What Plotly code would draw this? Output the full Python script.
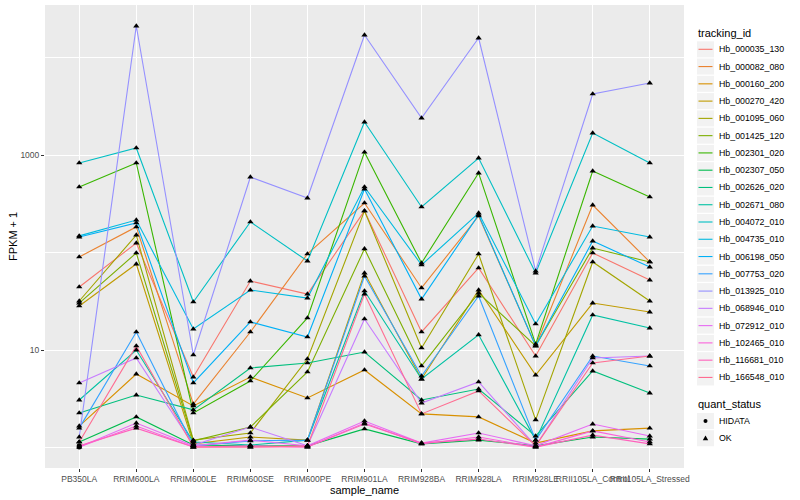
import plotly.graph_objects as go

samples = ["PB350LA", "RRIM600LA", "RRIM600LE", "RRIM600SE", "RRIM600PE", "RRIM901LA",
           "RRIM928BA", "RRIM928LA", "RRIM928LE", "RRII105LA_Control", "RRII105LA_Stressed"]

tracking_ids = ["Hb_000035_130", "Hb_000082_080", "Hb_000160_200", "Hb_000270_420", "Hb_001095_060",
                "Hb_001425_120", "Hb_002301_020", "Hb_002307_050", "Hb_002626_020", "Hb_002671_080",
                "Hb_004072_010", "Hb_004735_010", "Hb_006198_050", "Hb_007753_020", "Hb_013925_010",
                "Hb_068946_010", "Hb_072912_010", "Hb_102465_010", "Hb_116681_010", "Hb_166548_010"]

# FPKM + 1 per sample (order of `samples`)
hb_000035_130 = [44.3, 125, 5.28, 51, 37.5, 267, 15.3, 69.4, 8.67, 98.9, 52.2]
hb_000082_080 = [90, 183, 2.79, 15.3, 96.6, 322, 43.3, 237, 11.0, 307, 80]
hb_000160_200 = [1.66, 5.67, 2.67, 5.28, 3.22, 6.24, 2.21, 2.06, 1.11, 1.48, 1.58]
hb_000270_420 = [28.3, 76.2, 1.09, 1.28, 1.19, 61.6, 5.04, 41.2, 5.54, 30.3, 24.5]
hb_001095_060 = [31.8, 151, 1.19, 1.41, 8.09, 267, 10.5, 96.6, 1.92, 80, 31.8]
hb_001425_120 = [30.3, 98.9, 1.17, 1.62, 5.95, 109, 6.86, 38.4, 11.0, 111, 80]
hb_002301_020 = [470, 828, 2.26, 4.81, 21.3, 1070, 78, 653, 11.5, 685, 371]
hb_002307_050 = [1.14, 2.06, 1.06, 1.04, 1.04, 1.55, 1.09, 1.19, 1.04, 1.28, 1.22]
hb_002626_020 = [2.26, 3.45, 2.43, 6.54, 7.36, 9.53, 3.07, 3.98, 1.31, 6.09, 3.62]
hb_002671_080 = [3.07, 10, 1.14, 1.06, 1.19, 40.3, 5.04, 14.3, 1.19, 22.9, 16.8]
hb_004072_010 = [828, 1180, 31.1, 206, 81.8, 2180, 293, 931, 61.6, 1680, 828]
hb_004735_010 = [148, 215, 16.4, 41.2, 34.1, 470, 74.5, 254, 18.5, 187, 144]
hb_006198_050 = [144, 201, 4.59, 19.4, 13.6, 448, 33.3, 243, 11.0, 131, 71]
hb_007753_020 = [1.58, 15.3, 1.04, 1.17, 1.19, 57.4, 5.41, 35.8, 1.19, 8.67, 6.86]
hb_013925_010 = [1.28, 21040, 8.89, 594, 362, 17000, 2395, 15850, 64.6, 4225, 5470]
hb_068946_010 = [4.59, 8.28, 1.06, 1.62, 1.04, 20.8, 2.86, 4.70, 1.04, 8.28, 8.67]
hb_072912_010 = [1.01, 1.78, 1.04, 1.19, 1.04, 1.87, 1.11, 1.41, 1.04, 1.74, 1.31]
hb_102465_010 = [1.01, 1.66, 1.01, 1.04, 1.01, 1.78, 1.09, 1.28, 1.01, 1.48, 1.14]
hb_116681_010 = [1.04, 1.58, 1.01, 1.01, 1.01, 1.74, 1.11, 1.22, 1.01, 1.34, 1.09]
hb_166548_010 = [1.14, 11.0, 1.01, 1.01, 1.04, 37.5, 2.21, 3.80, 1.04, 7.36, 8.67]

series_values = [hb_000035_130, hb_000082_080, hb_000160_200, hb_000270_420, hb_001095_060,
                 hb_001425_120, hb_002301_020, hb_002307_050, hb_002626_020, hb_002671_080,
                 hb_004072_010, hb_004735_010, hb_006198_050, hb_007753_020, hb_013925_010,
                 hb_068946_010, hb_072912_010, hb_102465_010, hb_116681_010, hb_166548_010]

# (tracking_id, sample) pairs with quant_status HIDATA; all others OK
hidata_points = [("Hb_102465_010", "PB350LA"), ("Hb_116681_010", "PB350LA")]

quant_statuses = ["HIDATA", "OK"]

colors = ["#F8766D", "#EA8331", "#D89000", "#C09B00", "#A3A500", "#7CAE00", "#39B600", "#00BB4E",
          "#00BF7D", "#00C1A3", "#00BFC4", "#00BAE0", "#00B0F6", "#35A2FF", "#9590FF", "#C77CFF",
          "#E76BF3", "#FA62DB", "#FF62BC", "#FF6C91"]

FONT = "Liberation Sans, Arial, sans-serif"

# panel in pixels
PL, PR, PT, PB = 45, 684, 5, 468
W, H = 800, 500


def pxx(px):
    return (px - PL) / (PR - PL)


def pxy(py):
    return (PB - py) / (PB - PT)


fig = go.Figure()

for name, vals, col in zip(tracking_ids, series_values, colors):
    fig.add_trace(go.Scatter(x=samples, y=vals, mode="lines", name=name,
                             line=dict(color=col, width=1.1), showlegend=False,
                             hoverinfo="skip"))

ok_x, ok_y, hi_x, hi_y = [], [], [], []
hid = set(hidata_points)
for name, vals in zip(tracking_ids, series_values):
    for s, v in zip(samples, vals):
        if (name, s) in hid:
            hi_x.append(s); hi_y.append(v)
        else:
            ok_x.append(s); ok_y.append(v)

fig.add_trace(go.Scatter(x=ok_x, y=ok_y, mode="markers", name="OK", showlegend=False,
                         marker=dict(symbol="triangle-up", size=5.5, color="black")))
fig.add_trace(go.Scatter(x=hi_x, y=hi_y, mode="markers", name="HIDATA", showlegend=False,
                         marker=dict(symbol="circle", size=5, color="black")))

shapes = []
annotations = []

# axis titles
annotations.append(dict(text="sample_name", x=pxx(364.5), y=pxy(490), xref="paper", yref="paper",
                        showarrow=False, xanchor="center", yanchor="middle",
                        font=dict(family=FONT, size=11, color="black")))
annotations.append(dict(text="FPKM + 1", x=pxx(13), y=pxy(237), xref="paper", yref="paper",
                        showarrow=False, xanchor="center", yanchor="middle", textangle=-90,
                        font=dict(family=FONT, size=11, color="black")))

# manual ggplot-style legend
annotations.append(dict(text="tracking_id", x=pxx(696), y=pxy(33), xref="paper", yref="paper",
                        showarrow=False, xanchor="left", yanchor="middle",
                        font=dict(family=FONT, size=11, color="black")))
step = 17.27
for i, (name, col) in enumerate(zip(tracking_ids, colors)):
    cy = 49.3 + i * step
    shapes.append(dict(type="rect", xref="paper", yref="paper",
                       x0=pxx(697), x1=pxx(714), y0=pxy(cy - 8.0), y1=pxy(cy + 8.0),
                       fillcolor="#F2F2F2", line=dict(width=0)))
    shapes.append(dict(type="line", xref="paper", yref="paper",
                       x0=pxx(698.5), x1=pxx(712.5), y0=pxy(cy), y1=pxy(cy),
                       line=dict(color=col, width=1.1)))
    annotations.append(dict(text=name, x=pxx(717), y=pxy(cy), xref="paper", yref="paper",
                            showarrow=False, xanchor="left", yanchor="middle",
                            font=dict(family=FONT, size=8.8, color="black")))

annotations.append(dict(text="quant_status", x=pxx(696), y=pxy(404), xref="paper", yref="paper",
                        showarrow=False, xanchor="left", yanchor="middle",
                        font=dict(family=FONT, size=11, color="black")))
for i, st in enumerate(quant_statuses):
    cy = 421 + i * step
    shapes.append(dict(type="rect", xref="paper", yref="paper",
                       x0=pxx(697), x1=pxx(714), y0=pxy(cy - 8.0), y1=pxy(cy + 8.0),
                       fillcolor="#F2F2F2", line=dict(width=0)))
    if st == "HIDATA":
        shapes.append(dict(type="circle", xref="paper", yref="paper",
                           x0=pxx(703.5), x1=pxx(707.5), y0=pxy(cy - 2), y1=pxy(cy + 2),
                           fillcolor="black", line=dict(width=0)))
    else:
        path = "M {},{} L {},{} L {},{} Z".format(pxx(702.8), pxy(cy + 2), pxx(708.2), pxy(cy + 2),
                                                 pxx(705.5), pxy(cy - 2.8))
        shapes.append(dict(type="path", xref="paper", yref="paper", path=path,
                           fillcolor="black", line=dict(width=0)))
    annotations.append(dict(text=st, x=pxx(717), y=pxy(cy), xref="paper", yref="paper",
                            showarrow=False, xanchor="left", yanchor="middle",
                            font=dict(family=FONT, size=8.8, color="black")))

fig.update_layout(
    width=W, height=H,
    margin=dict(l=PL, r=W - PR, t=PT, b=H - PB),
    paper_bgcolor="white", plot_bgcolor="#EBEBEB",
    font=dict(family=FONT),
    shapes=shapes, annotations=annotations,
    showlegend=False,
    xaxis=dict(type="category", categoryorder="array", categoryarray=samples,
               range=[-0.6, 10.6], showgrid=True, gridcolor="white", gridwidth=1.1,
               ticks="outside", ticklen=3, tickcolor="#333333", tickwidth=1,
               tickangle=0, tickfont=dict(family=FONT, size=8.5, color="#4D4D4D"),
               zeroline=False, showline=False),
    yaxis=dict(type="log", range=[-0.2103, 4.5385], tickvals=[10, 1000], ticktext=["10", "1000"],
               showgrid=True, gridcolor="white", gridwidth=1.1,
               ticks="outside", ticklen=3, tickcolor="#333333", tickwidth=1,
               tickfont=dict(family=FONT, size=8.5, color="#4D4D4D"),
               minor=dict(tickvals=[1, 100, 10000], showgrid=True, gridcolor="white",
                          gridwidth=0.55, ticks=""),
               zeroline=False, showline=False),
)

fig.write_html("out.html", config={"displayModeBar": False},
               post_script="document.body.style.margin='0';document.body.style.overflow='hidden';")
